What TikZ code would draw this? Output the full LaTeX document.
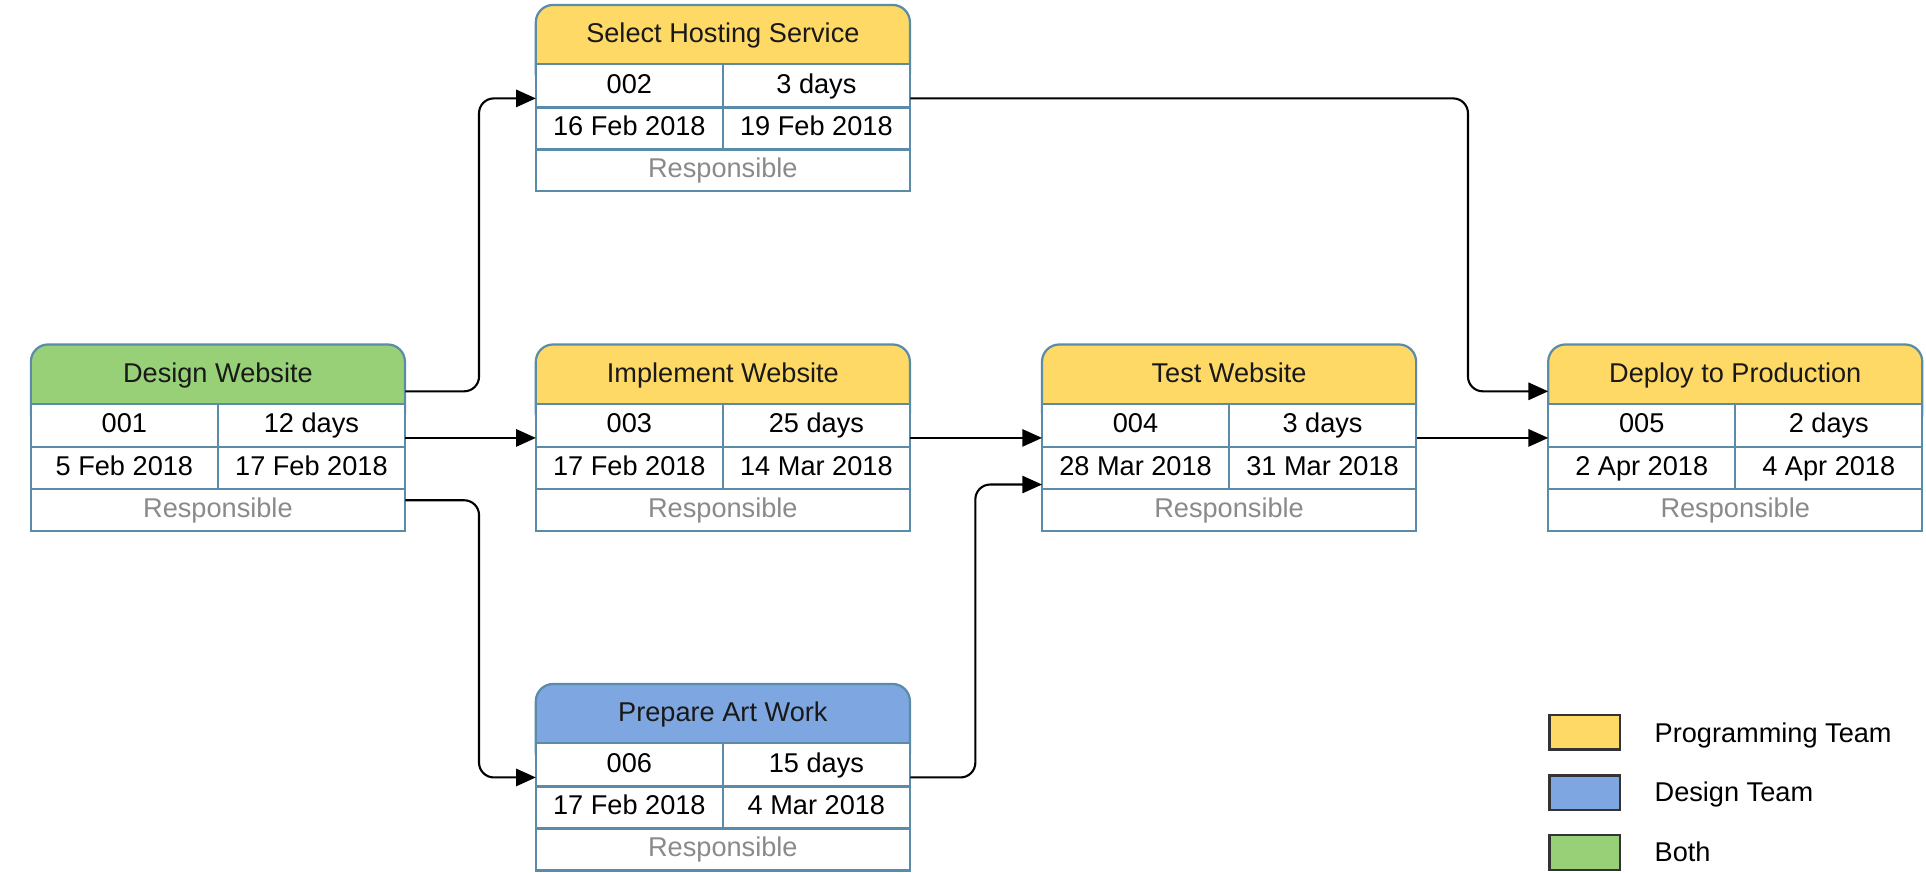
\documentclass[tikz,border=0pt]{standalone}
\usepackage{fontspec}
\setmainfont{Liberation Sans}
\usetikzlibrary{arrows.meta,calc}
\definecolor{yel}{HTML}{FFD966}
\definecolor{blu}{HTML}{7EA6E0}
\definecolor{grn}{HTML}{97D077}
\definecolor{bord}{HTML}{5A8BA8}
\definecolor{resp}{HTML}{8A8A8A}
\definecolor{legbord}{HTML}{333333}
\tikzset{
  txt/.style={font=\fontsize{22}{26}\selectfont, inner sep=0pt, text height=15.5pt, text depth=4.5pt, anchor=center},
  boxline/.style={draw=bord, line width=1.8pt},
  conn/.style={draw=black, line width=1.7pt, rounded corners=12pt, -{Triangle[length=16pt,width=14pt]}},
  legbox/.style={draw=legbord, line width=2pt, minimum width=57pt, minimum height=28pt, inner sep=0pt},
}
\newcommand\taskbox[9]{%
  \node[anchor=north west, minimum width=303pt, minimum height=151pt, inner sep=0pt] (#1) at (#2,#3) {};
  \filldraw[fill=#4, boxline, rounded corners=14pt] (#2,#3) rectangle ++(303,70);
  \filldraw[fill=white, boxline] (#2,#3+48) rectangle ++(303,103);
  \draw[boxline] (#2,#3+83) -- ++(303,0) (#2,#3+117) -- ++(303,0) (#2+151.5,#3+48) -- ++(0,69);
  \node[txt, text=black!90] (#1-title) at (#2+151.5,#3+25) {#5};
  \node[txt] (#1-id) at (#2+75.75,#3+66) {#6};
  \node[txt] (#1-dur) at (#2+227.25,#3+66) {#7};
  \node[txt] (#1-start) at (#2+75.75,#3+100.5) {#8};
  \node[txt] (#1-end) at (#2+227.25,#3+100.5) {#9};
  \node[txt, text=resp] (#1-resp) at (#2+151.5,#3+134.5) {Responsible};
}
\begin{document}
\begin{tikzpicture}[x=1pt,y=-1pt]
\useasboundingbox[fill=white] (0,0) rectangle (1560,706.3);
\taskbox{design}{25}{279}{grn}{Design Website}{001}{12 days}{5 Feb 2018}{17 Feb 2018}
\taskbox{select}{434}{4}{yel}{Select Hosting Service}{002}{3 days}{16 Feb 2018}{19 Feb 2018}
\taskbox{impl}{434}{279}{yel}{Implement Website}{003}{25 days}{17 Feb 2018}{14 Mar 2018}
\taskbox{test}{844}{279}{yel}{Test Website}{004}{3 days}{28 Mar 2018}{31 Mar 2018}
\taskbox{deploy}{1254}{279}{yel}{Deploy to Production}{005}{2 days}{2 Apr 2018}{4 Apr 2018}
\taskbox{prep}{434}{554}{blu}{Prepare Art Work}{006}{15 days}{17 Feb 2018}{4 Mar 2018}

\coordinate (d-out1) at ([yshift=37.75pt]design.east);
\coordinate (d-out3) at ([yshift=-50.5pt]design.east);
\coordinate (t-in2) at ([yshift=-37.75pt]test.west);
\coordinate (dp-in1) at ([yshift=37.75pt]deploy.west);

\draw[conn] (d-out1) -| ([xshift=-46pt]select.west) -- (select.west);
\draw[conn] (design.east) -- (impl.west);
\draw[conn] (d-out3) -| ([xshift=-46pt]prep.west) -- (prep.west);
\draw[conn] (impl.east) -- (test.west);
\draw[conn] (prep.east) -| ([xshift=-54pt]t-in2) -- (t-in2);
\draw[conn] (select.east) -| ([xshift=-65pt]dp-in1) -- (dp-in1);
\draw[conn] (test.east) -- (deploy.west);

\node[legbox, fill=yel] (lg1) at (1283.5,593) {};
\node[legbox, fill=blu] (lg2) at (1283.5,642) {};
\node[legbox, fill=grn] (lg3) at (1283.5,690.5) {};
\node[txt, anchor=west] (lt1) at (1340,596) {Programming Team};
\node[txt, anchor=west] (lt2) at (1340,644) {Design Team};
\node[txt, anchor=west] (lt3) at (1340,692) {Both};
\end{tikzpicture}
\end{document}
